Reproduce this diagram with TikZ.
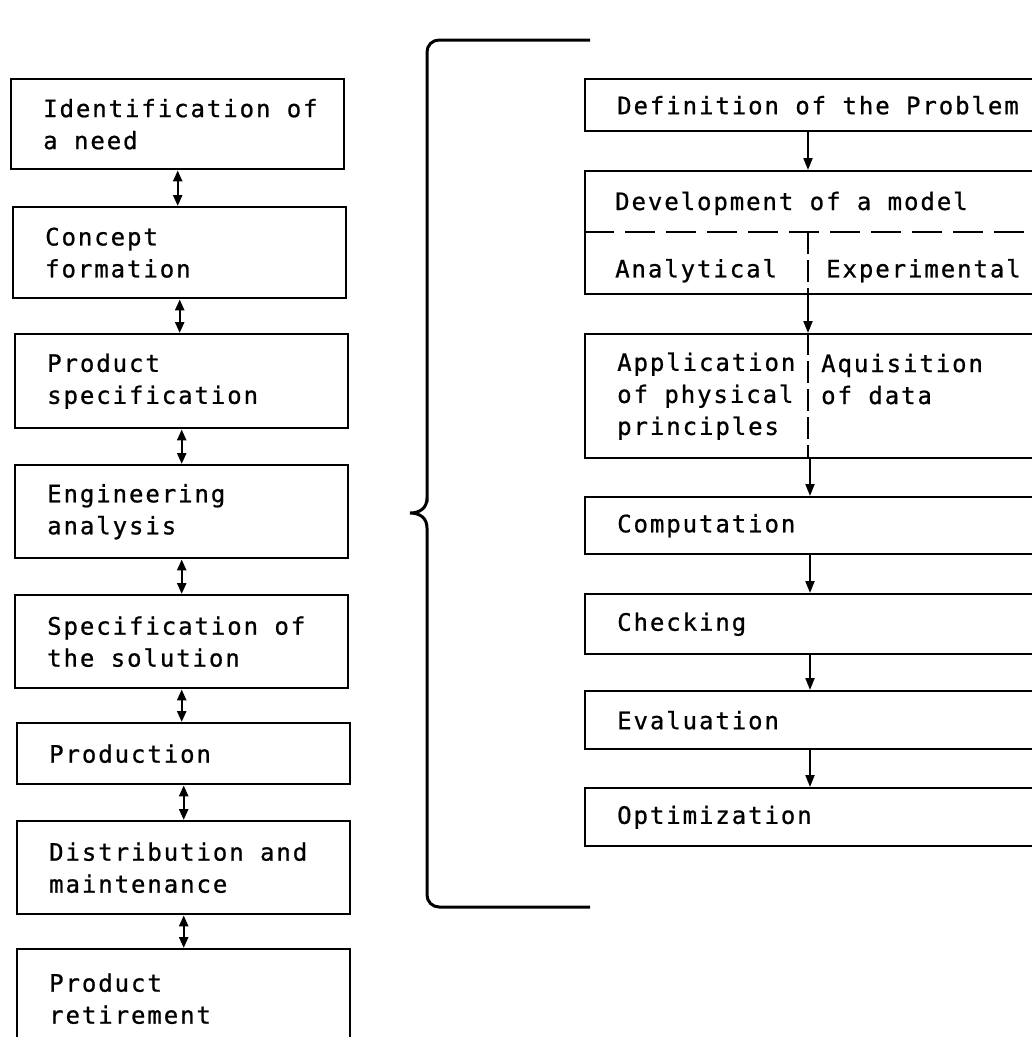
\documentclass[tikz,border=0pt]{standalone}
\usepackage{fontspec}
\usetikzlibrary{arrows.meta}
\newfontfamily\stagefont[LetterSpace=8,FakeBold=0.8]{DejaVu Sans Mono}

\begin{document}
\begin{tikzpicture}[x=1pt, y=-1pt,
  stage/.style={draw, line width=2.4pt, anchor=north west, align=left,
    text width=301pt, inner xsep=16pt, inner ysep=0pt,
    execute at begin node={\leftskip=16pt \spaceskip=0pt \xspaceskip=0pt},
    font=\stagefont\fontsize{24pt}{32pt}\selectfont},
  wide stage/.style={stage, text width=444pt},
  note/.style={inner sep=0pt, align=left, font=\stagefont\fontsize{24pt}{32pt}\selectfont},
  both/.style={line width=2.4pt, {Triangle[length=11pt,width=9pt]}-{Triangle[length=11pt,width=9pt]}},
  flow/.style={line width=2pt, -{Triangle[length=12pt,width=9pt]}},
  divider/.style={line width=2pt, dash pattern=on 30pt off 11pt},
  split/.style={line width=2pt, dash pattern=on 22pt off 6pt},
  brace/.style={line width=3pt},
]
\useasboundingbox (0,0) rectangle (1032,1037);
\clip (0,0) rectangle (1032,1037);

% design process, left column
\foreach \nm/\xx/\yy/\hh/\txt in {
  need/10/78/90/{Identification of\\a need},
  concept/12/206/91/{Concept\\formation},
  spec/14/333/94/{Product\\specification},
  analysis/14/464/93/{Engineering\\analysis},
  solution/14/594/93/{Specification of\\the solution},
  production/16/722/61/{Production},
  distribution/16/820/93/{Distribution and\\maintenance},
  retirement/16/948/99/{Product\\retirement}}
  \node[stage, minimum height=\hh pt] (\nm) at (\xx,\yy) {\txt};

\foreach \a/\b in {need/concept, concept/spec, spec/analysis, analysis/solution,
  solution/production, production/distribution, distribution/retirement}
  \draw[both] (\a.south) -- (\a.south |- \b.north);

% engineering analysis, right column
\node[wide stage, minimum height=52pt] (problem) at (584,78) {Definition of the Problem};
\node[wide stage, minimum height=123pt] (model) at (584,170) {};
\node[wide stage, minimum height=124pt] (principles) at (584,333) {Application\\of physical\\principles};
\node[wide stage, minimum height=57pt] (computation) at (584,496) {Computation};
\node[wide stage, minimum height=60pt] (checking) at (584,593) {Checking};
\node[wide stage, minimum height=58pt] (evaluation) at (584,690) {Evaluation};
\node[wide stage, minimum height=58pt] (optimization) at (584,787) {Optimization};

\node[note, anchor=base west] (develop) at ([shift={(31pt,-40pt)}]model.north west) {Development of a model};
\node[note, anchor=base west] (analytical) at ([shift={(31pt,18pt)}]model.south west) {Analytical};
\node[note, anchor=base west] (experimental) at ([shift={(242pt,18pt)}]model.south west) {Experimental};
% base of a two-line note is its last line
\node[note, anchor=base west] (acquire) at ([shift={(237pt,-71pt)}]principles.north west) {Aquisition\\of data};

\draw[divider] ([yshift=-62pt]model.north west) -- ([yshift=-62pt]model.north east);
\draw[split] ([shift={(224pt,-62pt)}]model.north west) -- ([xshift=224pt]model.south west);
\draw[split] ([xshift=224pt]principles.north west) -- ([xshift=224pt]principles.south west);

\draw[flow] ([xshift=224pt]problem.south west) -- ([xshift=224pt]model.north west);
\draw[flow] ([xshift=224pt]model.south west) -- ([xshift=224pt]principles.north west);
\foreach \a/\b in {principles/computation, computation/checking,
  checking/evaluation, evaluation/optimization}
  \draw[flow] ([xshift=226pt]\a.south west) -- ([xshift=226pt]\b.north west);

% the brace that opens the analysis step
\draw[brace] (590,40) [rounded corners=12pt] -- (427,40) -- (427,490) [sharp corners]
  -- (427,498) .. controls (427,508) and (420,513) .. (410,513)
  .. controls (420,513) and (427,518) .. (427,528)
  -- (427,540) [rounded corners=12pt] -- (427,907) -- (590,907);
\end{tikzpicture}
\end{document}
